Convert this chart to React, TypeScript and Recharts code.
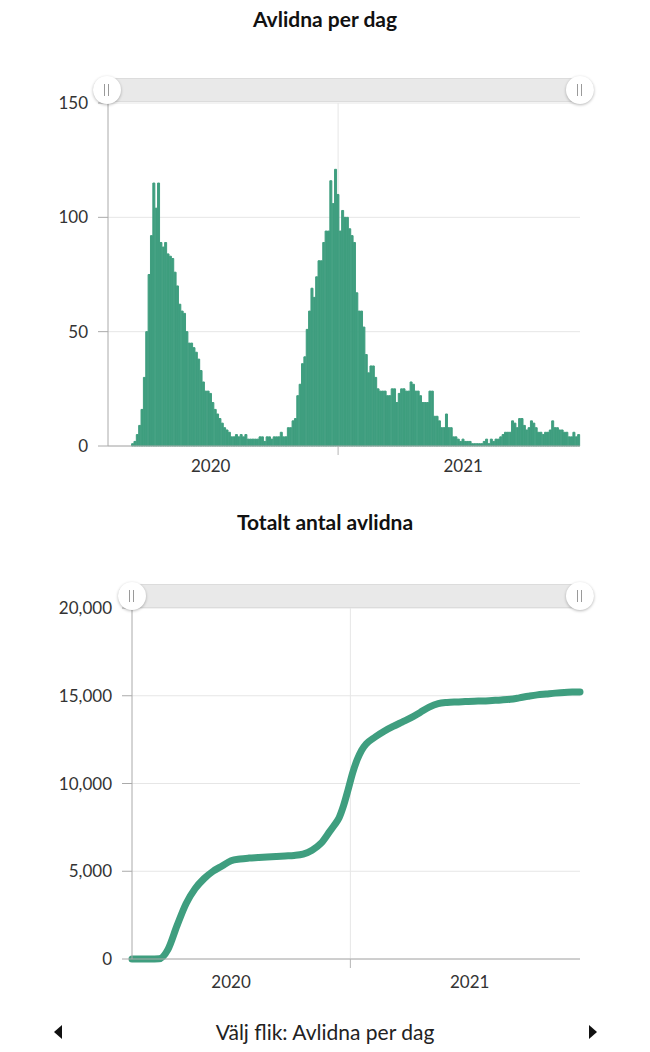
import React from 'react';
import { BarChart, Bar, LineChart, Line, XAxis, YAxis, CartesianGrid } from 'recharts';

const GREEN = '#3f9e7f';
const FONT = 'Lato, "Noto Sans", sans-serif';

// Avlidna per dag, one bar per ~3.4 days
const vag1 = [
  0, 0, 0, 0, 0, 0, 0, 0, 0, 0, 1, 2, 5, 9, 16, 30, 50, 75, 92, 115,
  104, 115, 89, 87, 89, 84, 83, 82, 76, 70, 62, 59, 58, 50, 45, 45, 43, 41, 38, 33,
  28, 24, 24, 23, 19, 16, 14, 12, 10, 8, 7, 6,
];
const sommar2020 = [4, 4, 5, 4, 5, 4, 5, 3, 3, 3, 3, 3, 4, 4, 2, 4, 4, 3, 4, 4, 4, 6, 4, 4, 8, 8];
const vag2 = [
  11, 12, 22, 27, 36, 39, 51, 59, 69, 65, 74, 81, 81, 89, 94, 94, 116, 106, 121, 110,
  94, 103, 100, 100, 95, 92, 89, 67, 59, 59, 52, 40, 32, 35, 35, 30, 25, 24, 24, 24,
  22, 22, 25, 25, 19, 23, 25, 25, 24, 24, 28, 27, 24, 24, 22, 19, 19, 19, 24, 24,
  13, 13, 11, 8, 8, 14, 8, 8,
];
const ar2021 = [
  4, 4, 3, 2, 3, 2, 2, 2, 1, 1, 1, 1, 1, 2, 3, 1, 3, 2, 3, 3,
  4, 5, 6, 6, 6, 11, 10, 8, 12, 12, 9, 7, 8, 11, 10, 8, 6, 6, 5, 6,
  6, 7, 11, 8, 8, 7, 7, 6, 6, 4, 4, 6, 4, 5,
];

// Totalt antal avlidna, sampled at these bar positions
const totalDag = [
  0, 4, 8, 12, 16, 20, 24, 28, 32, 36, 40, 44, 48, 52, 56, 60, 64, 68, 72, 76,
  80, 84, 88, 90, 92, 94, 96, 98, 100, 102, 104, 108, 112, 116, 120, 124, 128, 132, 136, 140,
  144, 148, 152, 156, 160, 164, 168, 172, 176, 180, 184, 188, 192, 196, 199,
];
const totalAvlidna = [
  0, 0, 0, 10, 550, 1900, 3150, 4000, 4580, 5000, 5300, 5600, 5700, 5750, 5780, 5810, 5840, 5870, 5900, 5980,
  6200, 6600, 7300, 7650, 8050, 8750, 9650, 10600, 11350, 11900, 12250, 12650, 12980, 13250, 13500, 13750, 14050, 14350, 14550, 14620,
  14650, 14670, 14690, 14700, 14730, 14760, 14800, 14880, 14970, 15050, 15100, 15150, 15190, 15210, 15220,
];

// x-axis: year labels and the year boundary
const yearLabels: Record<number, string> = { 43: '2020', 150: '2021' };
const yearLabelsTotal: Record<number, string> = { 44: '2020', 150: '2021' };
const arsskifte = 97;

const dagar = [...vag1, ...sommar2020, ...vag2, ...ar2021];
const perDagData = dagar.map((v, i) => ({ dag: i, avlidna: v }));
const totaltData = totalDag.map((d, k) => ({ dag: d, totalt: totalAvlidna[k] }));

const makeTick = (labels: Record<number, string>, textOffset: number) => (props: any) => {
  const { x, y, payload } = props;
  const label = labels[payload.value];
  if (!label) {
    return <line x1={x} x2={x} y1={y - 8} y2={y + 1} stroke="#b5b5b5" />;
  }
  return (
    <text x={x} y={y + textOffset} textAnchor="middle" fill="#333" fontSize={17} fontFamily={FONT}>
      {label}
    </text>
  );
};

const Handle = ({ left }: { left: number }) => (
  <div
    style={{
      position: 'absolute', left: left - 14, top: -2, width: 28, height: 28, borderRadius: 14,
      background: '#fff', boxShadow: '0 1px 3px rgba(0,0,0,0.28)',
    }}
  >
    <div style={{ position: 'absolute', left: 11, top: 8, width: 1, height: 12, background: '#9a9a9a' }} />
    <div style={{ position: 'absolute', left: 15, top: 8, width: 1, height: 12, background: '#9a9a9a' }} />
  </div>
);

const Slider = ({ top, from, to }: { top: number; from: number; to: number }) => (
  <div style={{ position: 'absolute', top, left: 0, width: 650, height: 24 }}>
    <div
      style={{
        position: 'absolute', left: from - 14, width: to - from + 28, top: 0, height: 24,
        background: '#e9e9e9', borderRadius: 12, boxShadow: 'inset 0 0 0 1px #dcdcdc',
      }}
    />
    <Handle left={from} />
    <Handle left={to} />
  </div>
);

const titleStyle: React.CSSProperties = {
  position: 'absolute', left: 0, width: 650, textAlign: 'center', fontFamily: FONT,
  fontWeight: 700, fontSize: 21, color: '#111',
};

const yTick = { fill: '#333', fontSize: 17, fontFamily: FONT };

export default function App() {
  return (
    <div style={{ position: 'absolute', left: 0, top: 0, width: 650, height: 1052, background: '#fff', fontFamily: FONT }}>
      <div style={{ ...titleStyle, top: 6 }}>Avlidna per dag</div>
      <div style={{ position: 'absolute', left: 0, top: 0 }}>
        <BarChart
          width={650}
          height={490}
          data={perDagData}
          margin={{ top: 103, right: 70, bottom: 4, left: 0 }}
          barCategoryGap={0}
          barGap={0}
        >
          {/* hidden axis that only carries the year-boundary grid line */}
          <XAxis xAxisId="grid" dataKey="dag" hide ticks={[arsskifte]} interval={0} />
          <CartesianGrid xAxisId="grid" stroke="#e6e6e6" syncWithTicks />
          <XAxis
            dataKey="dag"
            height={40}
            ticks={[43, arsskifte, 150]}
            interval={0}
            tickLine={false}
            stroke="#aaa"
            tick={makeTick(yearLabels, 18)}
          />
          <YAxis
            width={108}
            domain={[0, 150]}
            ticks={[0, 50, 100, 150]}
            tickSize={10}
            tickMargin={10}
            stroke="#aaa"
            tick={yTick}
          />
          <Bar dataKey="avlidna" fill={GREEN} stroke={GREEN} strokeWidth={1} isAnimationActive={false} />
        </BarChart>
      </div>
      <Slider top={78} from={107} to={580} />

      <div style={{ ...titleStyle, top: 509 }}>Totalt antal avlidna</div>
      <div style={{ position: 'absolute', left: 0, top: 500 }}>
        <LineChart
          width={650}
          height={500}
          data={totaltData}
          margin={{ top: 108, right: 70, bottom: 1, left: 0 }}
        >
          <XAxis xAxisId="grid" dataKey="dag" type="number" domain={[0, 199]} hide ticks={[arsskifte]} interval={0} />
          <CartesianGrid xAxisId="grid" stroke="#e6e6e6" syncWithTicks />
          <XAxis
            dataKey="dag"
            type="number"
            domain={[0, 199]}
            height={40}
            ticks={[44, arsskifte, 150]}
            interval={0}
            tickLine={false}
            stroke="#aaa"
            tick={makeTick(yearLabelsTotal, 21)}
          />
          <YAxis
            width={132}
            domain={[0, 20000]}
            ticks={[0, 5000, 10000, 15000, 20000]}
            tickFormatter={(v: number) => v.toLocaleString('en-US')}
            tickSize={10}
            tickMargin={10}
            stroke="#aaa"
            tick={yTick}
          />
          <Line
            type="monotone"
            dataKey="totalt"
            stroke={GREEN}
            strokeWidth={7}
            strokeLinecap="round"
            dot={false}
            isAnimationActive={false}
          />
        </LineChart>
      </div>
      <Slider top={584} from={132} to={580} />

      <div
        style={{
          position: 'absolute', left: 0, width: 650, top: 1019, textAlign: 'center',
          fontFamily: FONT, fontSize: 21, color: '#222',
        }}
      >
        Välj flik: Avlidna per dag
      </div>
      <div
        style={{
          position: 'absolute', left: 54, top: 1025, width: 0, height: 0,
          borderTop: '7px solid transparent', borderBottom: '7px solid transparent', borderRight: '8px solid #111',
        }}
      />
      <div
        style={{
          position: 'absolute', left: 589, top: 1025, width: 0, height: 0,
          borderTop: '7px solid transparent', borderBottom: '7px solid transparent', borderLeft: '8px solid #111',
        }}
      />
    </div>
  );
}
